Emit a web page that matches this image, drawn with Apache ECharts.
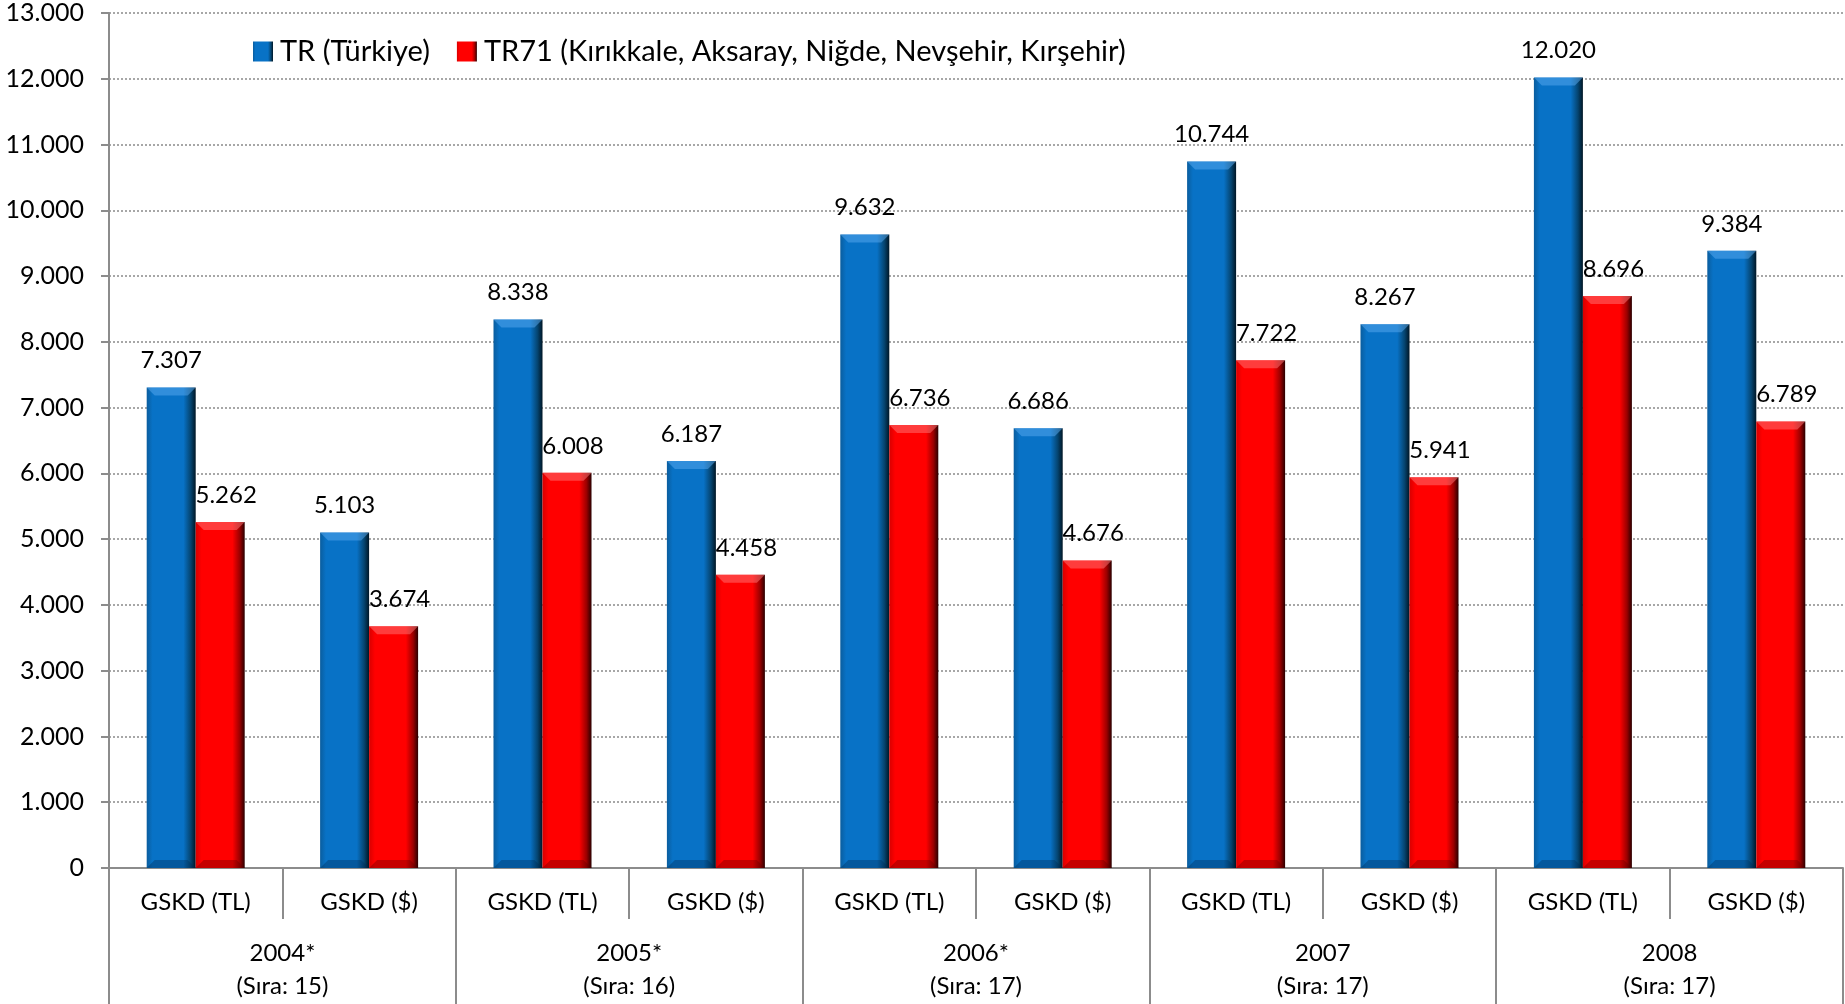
<!DOCTYPE html>
<html><head><meta charset="utf-8">
<script src="https://cdn.jsdelivr.net/npm/echarts@6/dist/echarts.min.js"></script>
<style>html,body{margin:0;padding:0;background:#fff}#c{width:1845px;height:1004px}</style>
</head><body><div id="c"></div>
<script>
const subCategories = ['GSKD (TL)','GSKD ($)','GSKD (TL)','GSKD ($)','GSKD (TL)','GSKD ($)','GSKD (TL)','GSKD ($)','GSKD (TL)','GSKD ($)'];
const groupLabels = ['2004*\n(Sıra: 15)','2005*\n(Sıra: 16)','2006*\n(Sıra: 17)','2007\n(Sıra: 17)','2008\n(Sıra: 17)'];
const seriesNames = ['TR (Türkiye)','TR71 (Kırıkkale, Aksaray, Niğde, Nevşehir, Kırşehir)'];
const trValues = [7307, 5103, 8338, 6187, 9632, 6686, 10744, 8267, 12020, 9384];
const tr71Values = [5262, 3674, 6008, 4458, 6736, 4676, 7722, 5941, 8696, 6789];
const yMin = 0, yMax = 13000, yStep = 1000;

const FONT = 'Lato';
const BAR_W = 49;
const fmt = v => { const s = String(Math.round(v)); return s.replace(/\B(?=(\d{3})+(?!\d))/g, '.'); };
const grad = (a, b, c, d) => ({type:'linear',x:0,y:0,x2:1,y2:0,colorStops:[
  {offset:0,color:a},{offset:0.12,color:b},{offset:0.75,color:b},{offset:0.9,color:c},{offset:1,color:d}]});
const blueFill = grad('#0a5d9e','#0872c6','#05446f','#001625');
const redFill = grad('#d80000','#ff0000','#9a0000','#2a0000');

function bevel(side, topColor, botColor) {
  return function (params, api) {
    const cat = api.value(0), val = api.value(1);
    const top = api.coord([cat, val]);
    const base = api.coord([cat, 0]);
    const x0 = side === 0 ? top[0] - BAR_W : top[0];
    const x1 = x0 + BAR_W;
    const b = 8;
    return {type:'group', children:[
      {type:'polygon', shape:{points:[[x0,top[1]],[x1,top[1]],[x1-b,top[1]+b],[x0+b,top[1]+b]]},
        style:{fill:topColor}},
      {type:'polygon', shape:{points:[[x0,base[1]],[x0+b,base[1]-b],[x1-b,base[1]-b],[x1,base[1]]]},
        style:{fill:botColor}}
    ]};
  };
}

const chart = echarts.init(document.getElementById('c'));
chart.setOption({
  animation:false,
  textStyle:{fontFamily:FONT},
  grid:{left:109,right:2,top:13,bottom:136,containLabel:false},
  legend:{
    left:248, top:32, itemWidth:20, itemHeight:20, itemGap:27,
    icon:'rect',
    textStyle:{fontFamily:FONT,fontSize:29,color:'#000',padding:[0,0,0,2]},
    data:seriesNames
  },
  xAxis:[{
    type:'category', data:subCategories, position:'bottom',
    axisLine:{lineStyle:{color:'#8c8c8c',width:2}},
    axisTick:{show:true,length:51,interval:0,lineStyle:{color:'#8c8c8c',width:2}},
    axisLabel:{interval:0,margin:22,fontSize:24,color:'#000',fontFamily:FONT}
  },{
    type:'category', data:groupLabels, position:'bottom',
    axisLine:{show:false},
    axisTick:{show:true,length:136,interval:0,lineStyle:{color:'#8c8c8c',width:2}},
    axisLabel:{interval:0,margin:69,fontSize:24,lineHeight:33,color:'#000',fontFamily:FONT}
  }],
  yAxis:{
    type:'value', min:yMin, max:yMax, interval:yStep,
    axisLine:{show:true,lineStyle:{color:'#8c8c8c',width:2}},
    axisTick:{show:true,length:8,lineStyle:{color:'#8c8c8c',width:2}},
    axisLabel:{margin:25,fontSize:25,color:'#000',fontFamily:FONT,formatter:fmt},
    splitLine:{show:true,lineStyle:{color:'#8a8a8a',width:1.5,type:[2,2]}}
  },
  series:[{
    name:seriesNames[0], type:'bar', xAxisIndex:0, data:trValues,
    barWidth:BAR_W, barGap:'0%',
    itemStyle:{color:blueFill},
    label:{show:true,position:'top',distance:15,fontSize:24,color:'#000',fontFamily:FONT,formatter:p=>fmt(p.value)}
  },{
    name:seriesNames[1], type:'bar', xAxisIndex:0, data:tr71Values,
    barWidth:BAR_W, barGap:'0%',
    itemStyle:{color:redFill},
    label:{show:true,position:'top',distance:15,offset:[6,0],fontSize:24,color:'#000',fontFamily:FONT,formatter:p=>fmt(p.value)}
  },{
    type:'custom', xAxisIndex:0, silent:true, z:3,
    renderItem:bevel(0,'rgba(90,170,240,0.5)','rgba(0,40,80,0.35)'),
    data:trValues.map((v,i)=>[i,v])
  },{
    type:'custom', xAxisIndex:0, silent:true, z:3,
    renderItem:bevel(1,'rgba(255,120,120,0.5)','rgba(90,0,0,0.35)'),
    data:tr71Values.map((v,i)=>[i,v])
  }]
});
</script></body></html>
